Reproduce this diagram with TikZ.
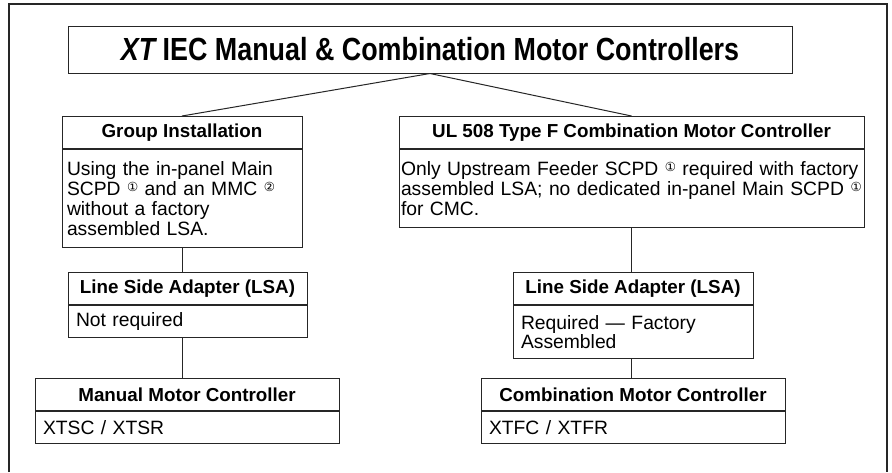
\documentclass[tikz,border=0pt]{standalone}
\usepackage{fontspec}
\setmainfont{Liberation Sans}
\newfontfamily\symfont{DejaVu Sans}
\newcommand{\circnum}[1]{\raisebox{0.38ex}{\symfont\fontsize{12.5}{12}\selectfont #1}}
\newcommand{\nohyph}{\hyphenpenalty=10000\relax\exhyphenpenalty=10000\relax}
\tikzset{
  box/.style={draw=black!85, line width=1pt, rectangle, inner sep=0pt},
  headbox/.style={box, anchor=north, minimum height=32pt, font=\bfseries\fontsize{18.8}{20}\selectfont},
  bodybox/.style={box, anchor=north, inner xsep=5pt, align=left,
    font=\fontsize{19.3}{19.8}\selectfont, execute at begin node=\nohyph},
  link/.style={draw=black!85, line width=1pt},
  frame/.style={draw=black!85, line width=1.4pt}
}
\begin{document}
\begin{tikzpicture}[x=1pt,y=-1pt]
\useasboundingbox (0,0) rectangle (892,472);
\fill[white] (0,0) rectangle (892,472);

\coordinate (T) at (430,49.5); % title centre
\coordinate (G) at (182,116); % group installation top
\coordinate (U) at (631.5,116); % UL 508 top
\coordinate (L) at (187.5,272); % left LSA top
\coordinate (R) at (633,272); % right LSA top
\coordinate (M) at (187,378); % manual controller top
\coordinate (C) at (633,378); % combination controller top

%outer frame, open at the bottom
\draw[frame] (9,472) -- (9,4) -- (887,4) -- (887,472);

%title
\node[box, minimum width=724pt, minimum height=47pt, font=\bfseries\fontsize{32}{32}\selectfont] (ttl) at (T)
  {\scalebox{0.84}[1]{\itshape XT\upshape\ IEC Manual \& Combination Motor Controllers}};

%left branch
\node[headbox, minimum width=240pt] (grpH) at (G) {Group Installation};
\node[bodybox, text width=230pt, minimum height=98pt] (grpB) at (grpH.south)
  {Using the in-panel Main\\SCPD \circnum{①} and an MMC \circnum{②}\\without a factory\\assembled LSA.};
\node[headbox, minimum width=239pt] (lsaLH) at (L) {Line Side Adapter (LSA)};
\node[bodybox, inner xsep=8pt, text width=223pt, minimum height=32pt] (lsaLB) at (lsaLH.south) {Not required};
\node[headbox, minimum width=304pt] (mmcH) at (M) {Manual Motor Controller};
\node[bodybox, inner xsep=8pt, text width=288pt, minimum height=32pt] (mmcB) at (mmcH.south) {XTSC / XTSR};

%right branch
\node[headbox, minimum width=465pt] (ulH) at (U) {UL 508 Type F Combination Motor Controller};
\node[bodybox, inner xsep=2pt, text width=461pt, minimum height=78pt] (ulB) at (ulH.south)
  {Only Upstream Feeder SCPD \circnum{①} required with factory\\assembled LSA; no dedicated in-panel Main SCPD \circnum{①}\\for CMC.};
\node[headbox, minimum width=240pt] (lsaRH) at (R) {Line Side Adapter (LSA)};
\node[bodybox, inner xsep=8pt, text width=224pt, minimum height=53pt] (lsaRB) at (lsaRH.south) {Required — Factory\\Assembled};
\node[headbox, minimum width=304pt] (cmcH) at (C) {Combination Motor Controller};
\node[bodybox, inner xsep=8pt, text width=288pt, minimum height=32pt] (cmcB) at (cmcH.south) {XTFC / XTFR};

%connections
\draw[link] (ttl.south) -- (grpH.north);
\draw[link] (ttl.south) -- (ulH.north);
\draw[link] (grpB.south) -- (grpB.south |- lsaLH.north);
\draw[link] (grpB.south |- lsaLB.south) -- (grpB.south |- mmcH.north);
\draw[link] (ulB.south) -- (ulB.south |- lsaRH.north);
\draw[link] (ulB.south |- lsaRB.south) -- (ulB.south |- cmcH.north);
\end{tikzpicture}
\end{document}
